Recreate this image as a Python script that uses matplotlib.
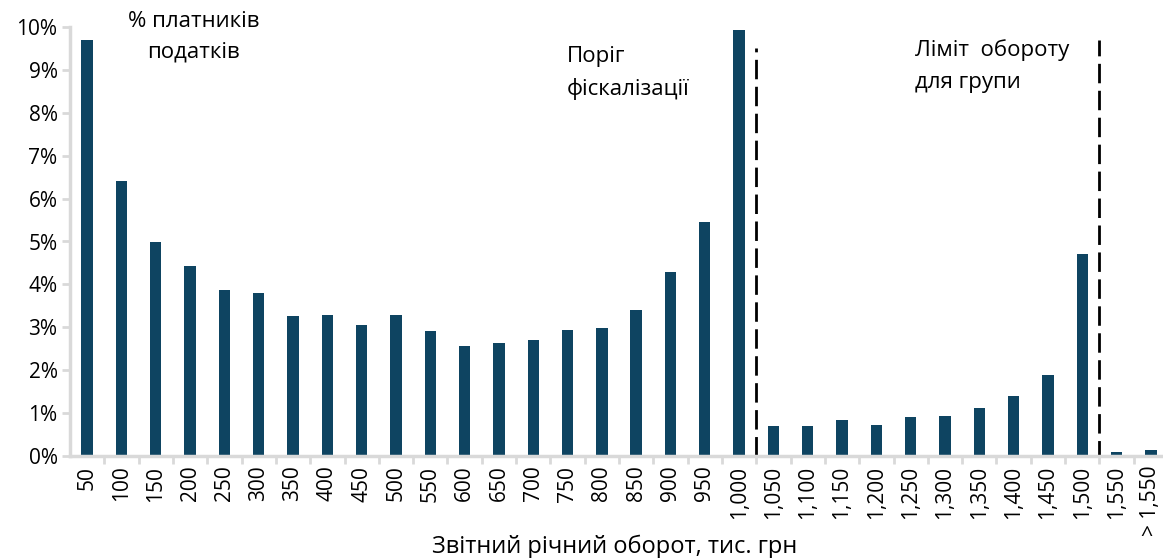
import matplotlib.pyplot as plt
from matplotlib.ticker import PercentFormatter

categories = ['50', '100', '150', '200', '250', '300', '350', '400', '450', '500',
              '550', '600', '650', '700', '750', '800', '850', '900', '950', '1,000',
              '1,050', '1,100', '1,150', '1,200', '1,250', '1,300', '1,350', '1,400',
              '1,450', '1,500', '1,550', '> 1,550']
share = [9.70, 6.41, 4.99, 4.43, 3.87, 3.80, 3.26, 3.29, 3.05, 3.29,
         2.91, 2.56, 2.63, 2.70, 2.94, 2.98, 3.40, 4.29, 5.45, 9.93,
         0.70, 0.70, 0.84, 0.72, 0.91, 0.93, 1.12, 1.40, 1.89, 4.71,
         0.10, 0.15]
thresholds = [19.5, 29.5]  # between 1,000|1,050 and 1,500|1,550

plt.rcParams['font.family'] = ['Open Sans', 'DejaVu Sans']
fig = plt.figure(figsize=(11.63, 5.58), dpi=100)
ax = fig.add_axes([70 / 1163, 102 / 558, 1098 / 1163, 429 / 558])

x = list(range(len(categories)))
ax.bar(x, share, width=0.33, color='#0e4461')

ax.set_xlim(-0.5, len(categories) - 0.5)
ax.set_ylim(0, 10)
ax.yaxis.set_major_formatter(PercentFormatter(decimals=0))
ax.set_yticks(range(0, 11))

ax.set_xticks(x)
ax.set_xticklabels(categories, rotation=90)
ax.set_xticks([i - 0.5 for i in range(1, len(categories) + 1)], minor=True)
ax.tick_params(axis='x', which='major', length=0, pad=7, labelsize=15)
ax.tick_params(axis='x', which='minor', length=6, width=2, color='#d9d9d9')
ax.tick_params(axis='y', length=6, width=2, color='#d9d9d9', labelsize=15, pad=3)

for s in ['top', 'right']:
    ax.spines[s].set_visible(False)
for s in ['left', 'bottom']:
    ax.spines[s].set_color('#d9d9d9')
    ax.spines[s].set_linewidth(2.5)

ax.vlines(thresholds[0], 0, 9.5, colors='black', linestyles=(0, (7, 2.7)), linewidth=2)
ax.vlines(thresholds[1], -0.1, 9.7, colors='black', linestyles=(0, (7, 2.7)), linewidth=2)

ax.text(3.1, 10.38, '% платників\nподатків', ha='center', va='top', fontsize=16, linespacing=1.6)
ax.text(13.98, 9.55, 'Поріг\nфіскалізації', ha='left', va='top', fontsize=16, linespacing=1.65)
ax.text(24.13, 9.72, 'Ліміт  обороту\nдля групи', ha='left', va='top', fontsize=16, linespacing=1.7)

fig.text(615 / 1163, 1 - 547 / 558, 'Звітний річний оборот, тис. грн', ha='center', va='center', fontsize=17)

fig.savefig('out.png', dpi=100)
